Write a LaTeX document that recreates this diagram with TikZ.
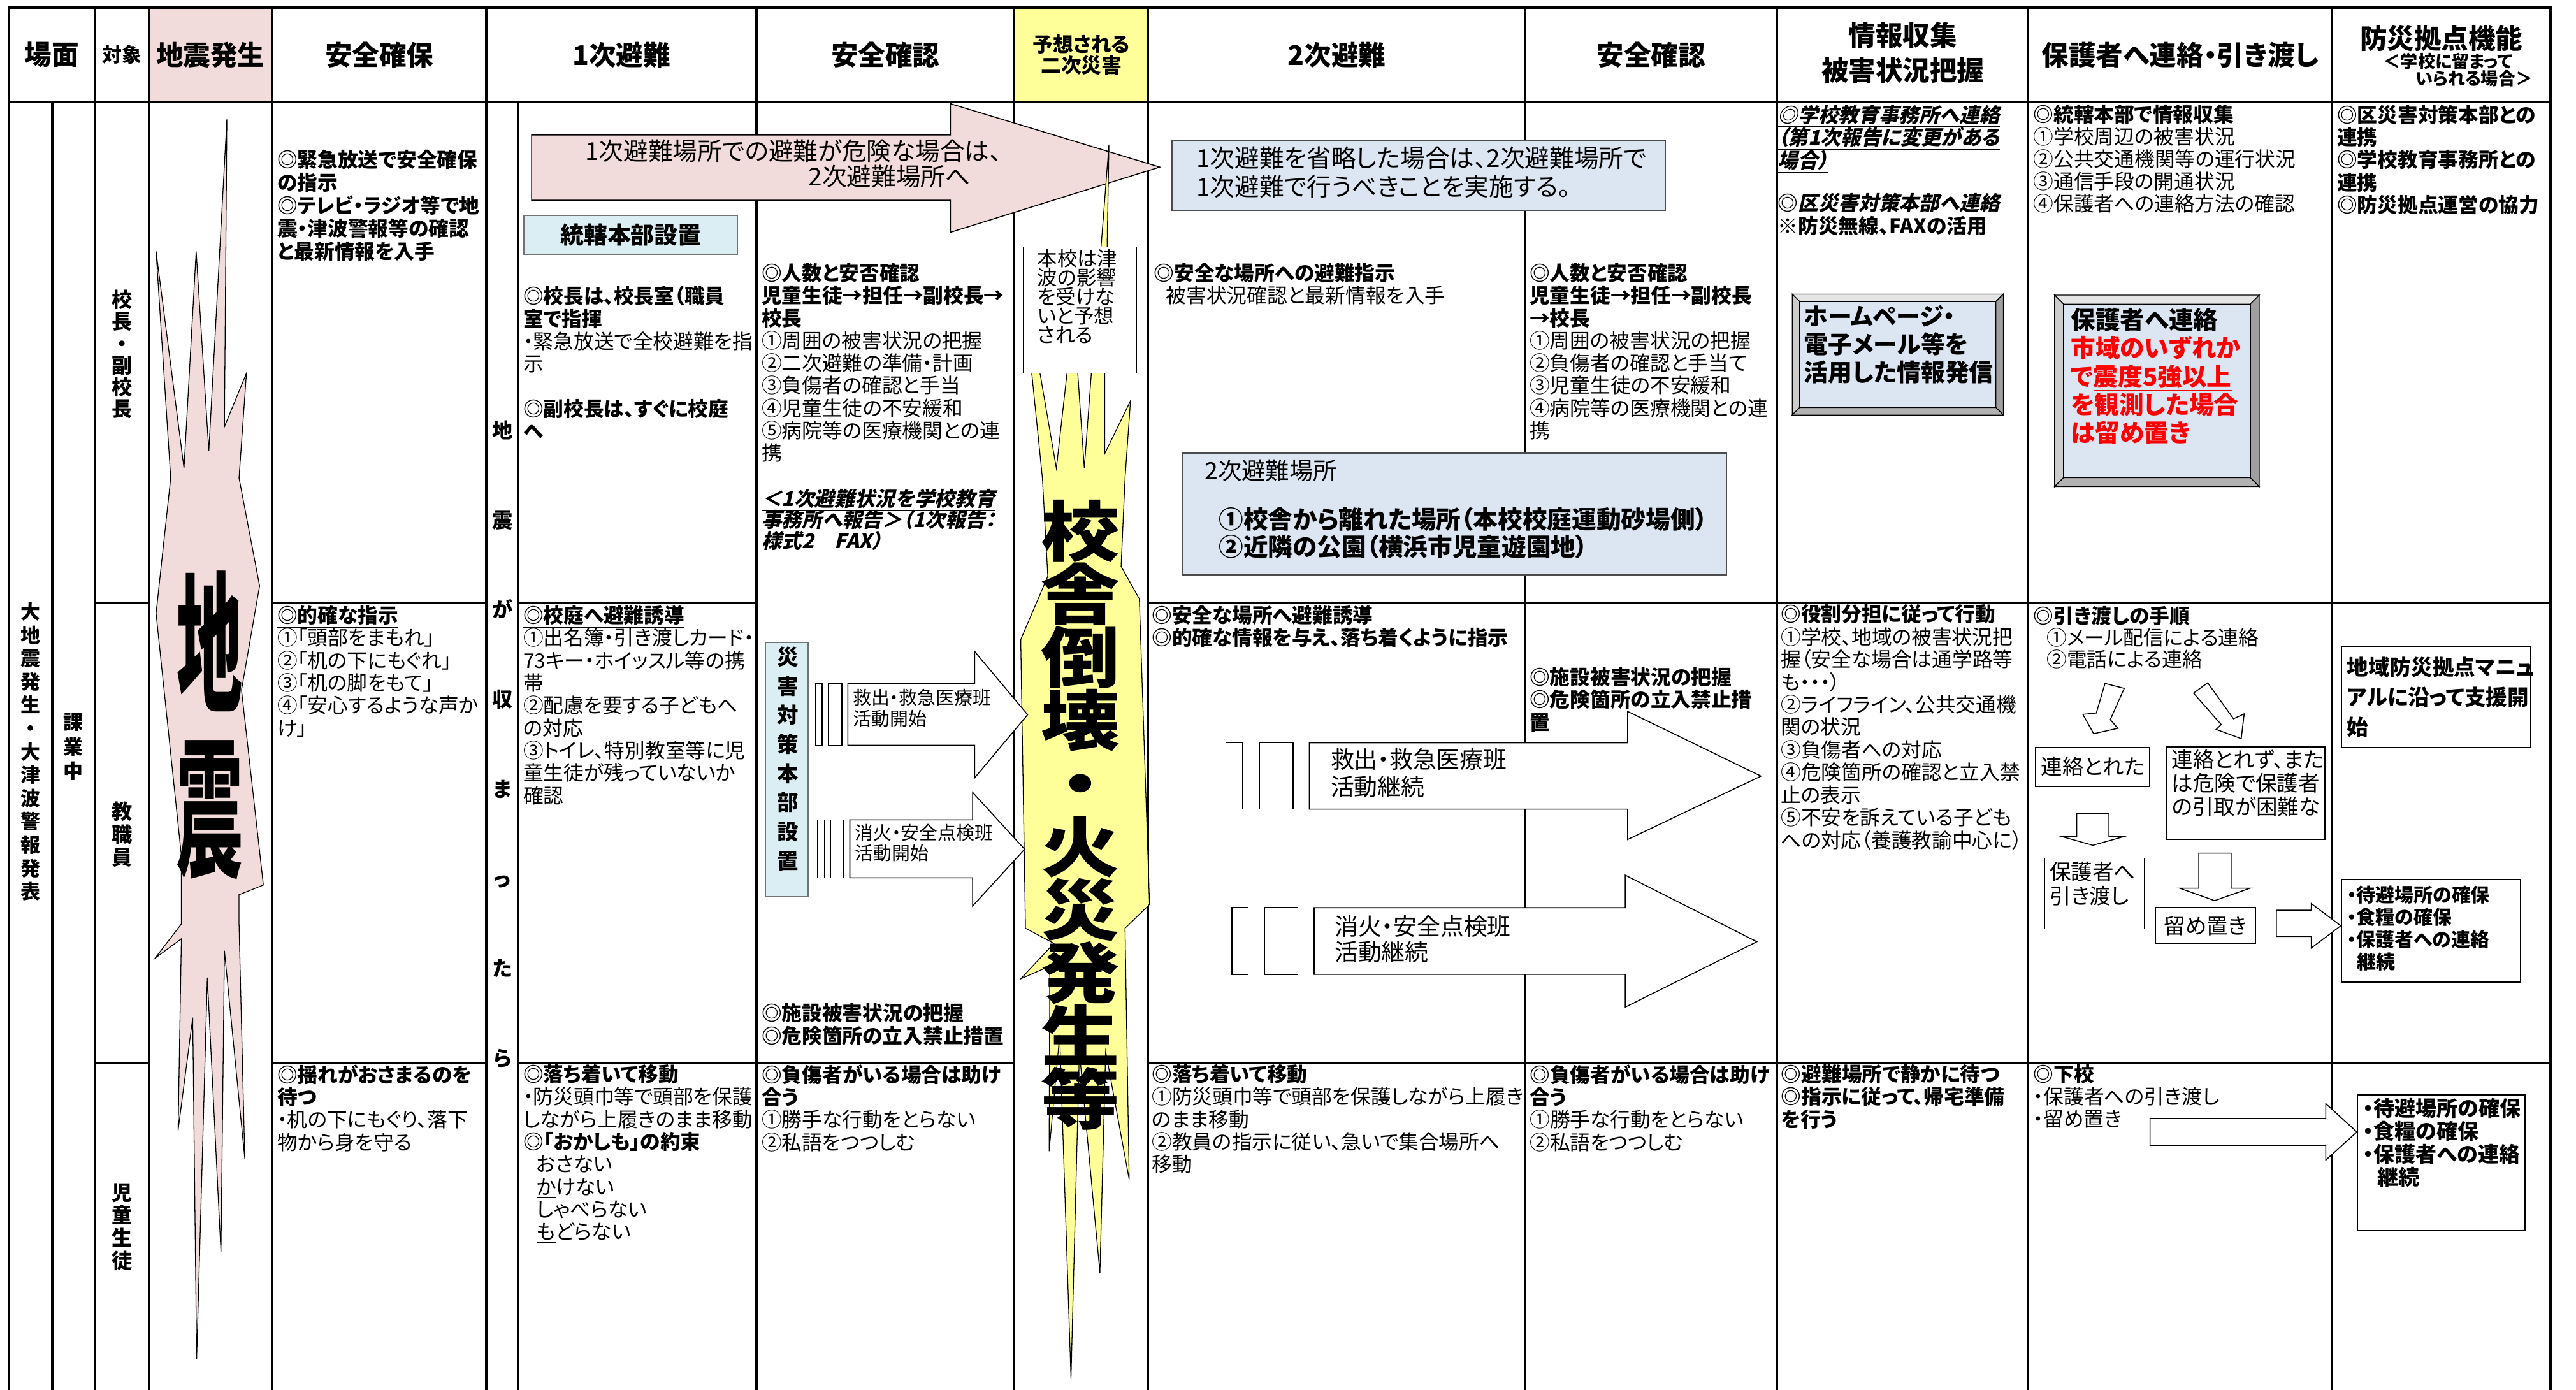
\documentclass[tikz,border=0pt]{standalone}
\usepackage{fontspec}
\usepackage{graphicx}
\setmainfont{Noto Sans CJK JP}[RawFeature=+palt]
\newfontfamily\slfont{Noto Sans CJK JP}[RawFeature=+palt, FakeSlant=0.22]
\definecolor{pinkf}{HTML}{F2DCDB}
\definecolor{yelf}{HTML}{FFFF99}
\definecolor{lbluef}{HTML}{DAEEF3}
\definecolor{bboxf}{HTML}{DCE6F2}
\newcommand\B[1]{\textbf{#1}}
\newcommand\UB[1]{\underline{\textbf{#1}}}
\newcommand\IU[1]{\underline{\slfont\bfseries #1}}
\newcommand\wc[1]{\scalebox{1.2}[1]{#1}}
\newcommand\fsz[2]{\fontsize{#1}{#2}\selectfont}
\newcommand\bevel[5]{%
 \filldraw[line width=0.5pt, fill=gray!20] (#1,#2) -- (#3,#2) -- ({#3-#5},{#2+#5}) -- ({#1+#5},{#2+#5}) -- cycle;
 \filldraw[line width=0.5pt, fill=gray!40] (#1,#2) -- ({#1+#5},{#2+#5}) -- ({#1+#5},{#4-#5}) -- (#1,#4) -- cycle;
 \filldraw[line width=0.5pt, fill=gray!75] (#3,#2) -- (#3,#4) -- ({#3-#5},{#4-#5}) -- ({#3-#5},{#2+#5}) -- cycle;
 \filldraw[line width=0.5pt, fill=gray!60] (#1,#4) -- (#3,#4) -- ({#3-#5},{#4-#5}) -- ({#1+#5},{#4-#5}) -- cycle;
 \filldraw[line width=0.5pt, fill=bboxf] ({#1+#5},{#2+#5}) rectangle ({#3-#5},{#4-#5});}
\AtBeginDocument{\lineskiplimit=-100pt\lineskip=0pt}
\begin{document}
\begin{tikzpicture}[x=1pt,y=-1pt,
 body/.style={anchor=north west,inner sep=0pt,align=left,font=\fsz{12.3}{13.7}},
 hd/.style={inner sep=0pt,align=center,font=\bfseries\fsz{16.5}{21.4}},
 vt/.style={inner sep=0pt,align=center},
 gridv/.style={line width=1.3pt},
 gridh/.style={line width=1pt},
 shp/.style={draw=black,line width=0.6pt,fill=white},
 lbl/.style={inner sep=0pt,align=left,anchor=north west}]
\useasboundingbox (0,0) rectangle (1568,846);
\fill[white] (0,0) rectangle (1568,846);
% header fills
\fill[pinkf] (90.5,4.5) rectangle (165.7,62.2);
\fill[yelf] (617.5,4.5) rectangle (698.9,62.2);
% grid
\foreach \xx in {57.9,90.5,165.7,296,460.4,617.5,698.9,928.4,1081.8,1234.6,1419.4}
  \draw[gridv] (\xx,4.5) -- (\xx,846);
\draw[gridv] (31.8,62.2) -- (31.8,846);
\draw[gridv] (315.6,62.2) -- (315.6,846);
\draw[gridh] (57.9,366.7) -- (90.5,366.7) (165.7,366.7) -- (296,366.7) (315.6,366.7) -- (460.4,366.7) (698.9,366.7) -- (1552.4,366.7);
\draw[gridh] (57.9,646.8) -- (90.5,646.8) (165.7,646.8) -- (296,646.8) (315.6,646.8) -- (617.5,646.8) (698.9,646.8) -- (1552.4,646.8);
\draw[line width=1.5pt] (5.3,846) -- (5.3,4.5) -- (1552.4,4.5) -- (1552.4,846);
\draw[line width=1.6pt] (5.3,62.2) -- (1552.4,62.2);

% headers
\node[hd] (h0) at (31.6,33.4) {場面};
\node[hd,font=\bfseries\fsz{12}{14}] (h1) at (74.2,33.4) {対象};
\node[hd] (h2) at (128.1,33.4) {地震発生};
\node[hd] (h3) at (230.9,33.4) {安全確保};
\node[hd] (h4) at (378.2,33.4) {1次避難};
\node[hd] (h5) at (539,33.4) {安全確認};
\node[hd,font=\bfseries\fsz{12.3}{13}] (h6) at (658.2,33.4) {予想される\\二次災害};
\node[hd] (h7) at (813.6,33.4) {2次避難};
\node[hd] (h8) at (1005.1,33.4) {安全確認};
\node[hd] (h9) at (1158.2,32) {情報収集\\被害状況把握};
\node[hd] (h10) at (1327,33.4) {保護者へ連絡・引き渡し};
\node[hd] (h11) at (1486,23.2) {防災拠点機能};
\node[lbl,font=\bfseries\fsz{10.5}{10.8}] (h11b) at (1450.6,31.9) {＜学校に留まって\\\hspace*{19.6pt}いられる場合＞};

% left vertical labels
\node[vt,font=\bfseries\fsz{12}{14.2}] (v1) at (18.6,457.5) {大\\地\\震\\発\\生\\・\\大\\津\\波\\警\\報\\発\\表};
\node[vt,font=\bfseries\fsz{12}{15}] (v2) at (44.5,454.6) {課\\業\\中};
\node[vt,font=\bfseries\fsz{12.5}{13.2}] (v3) at (74.2,215.6) {校\\長\\・\\副\\校\\長};
\node[vt,font=\bfseries\fsz{12.5}{13.9}] (v4) at (74.2,507.9) {教\\職\\員};
\node[vt,font=\bfseries\fsz{12.5}{13.9}] (v5) at (74.2,746.8) {児\\童\\生\\徒};
\node[vt,font=\bfseries\fsz{12.5}{54.6}] (v6) at (305.8,453) {地\\震\\が\\収\\ま\\っ\\た\\ら};

% pink arrow (1st evacuation dangerous)
\filldraw[fill=pinkf,draw=black,line width=0.6pt] (323.6,82.2) -- (578.5,82.2) -- (578.5,63.1) -- (705.9,101.7) -- (578.5,141.4) -- (578.5,121.9) -- (323.6,121.9) -- cycle;
\node[anchor=west,inner sep=0pt,font=\fsz{15}{17}] (pa1) at (356,91.8) {1次避難場所での避難が危険な場合は、};
\node[anchor=west,inner sep=0pt,font=\fsz{15}{17}] (pa2) at (492,107.6) {2次避難場所へ};

% yellow lightning
\filldraw[fill=yelf,draw=black,line width=0.5pt]
(634.5,291) -- (637.8,350.7) -- (621.3,389.3) -- (624.2,565) -- (641.5,574.2) -- (621.3,595.8) -- (639,588) -- (638.6,700.7) -- (645,630) -- (651.9,839) -- (657,640) -- (669.5,774.8) -- (673,640) -- (687.3,717.9) -- (684.8,565) -- (699.7,550.5) -- (693.5,364.5) -- (682.4,344.7) -- (684.8,291) -- (688.1,244) -- (672.5,276) -- (672.5,227) -- (675,88) -- (664.3,227) -- (660,285) -- (656,227) -- (652,160) -- (649.5,227) -- (643,285) -- (633,227) -- (628,170) -- (628,227) -- cycle;
% pink lightning
\filldraw[fill=pinkf,draw=black,line width=0.5pt]
(103.9,291) -- (95,153) -- (112,285) -- (119.4,153) -- (127.1,274.5) -- (138.1,72.7) -- (136.6,259.7) -- (150,227.2) -- (145.5,290.9) -- (158,356.6) -- (147,420) -- (160.3,538.7) -- (145.5,544.6) -- (145.5,562.4) -- (149,705.2) -- (136.6,578.7) -- (134.5,762.2) -- (126.2,595) -- (119.7,827.3) -- (117.3,619.4) -- (108.4,688) -- (110.4,571.4) -- (94.4,583.2) -- (110.4,562.4) -- (110.4,520.9) -- (95,373.4) -- cycle;
\node[inner sep=0pt] (jc1) at (127.7,390.2) {\scalebox{1}[2.3]{\bfseries\fsz{40}{40}地}};
\node[inner sep=0pt] (jc2) at (127.7,493.1) {\scalebox{1}[2.3]{\bfseries\fsz{40}{40}震}};

% tsunami note box
\filldraw[fill=white,draw=black,line width=0.6pt] (623,150.3) rectangle (691.8,227.2);
\node[lbl,font=\fsz{12.2}{11.6}] (tn) at (631.2,151.7) {本校は津\\波の影響\\を受けな\\いと予想\\される};
\node[vt,font=\bfseries\fsz{40}{38.4}] (big) at (657.6,496) {\wc{校}\\\wc{舎}\\\wc{倒}\\\wc{壊}\\\wc{・}\\\wc{火}\\\wc{災}\\\wc{発}\\\wc{生}\\\wc{等}};

% HQ boxes
\filldraw[fill=lbluef,draw=black!55,line width=0.7pt] (319,131.3) rectangle (449,154.9);
\node[inner sep=0pt,font=\bfseries\fsz{14.3}{16}] (hq) at (384,143.1) {統轄本部設置};
\filldraw[fill=lbluef,draw=black!55,line width=0.7pt] (465.9,391.2) rectangle (491.9,545.6);
\node[vt,font=\bfseries\fsz{13}{17.7}] (dq) at (479.5,461.9) {災\\害\\対\\策\\本\\部\\設\\置};

% small white arrows (start)
\draw[shp] (496.3,416) rectangle (500.5,453.6);
\draw[shp] (504.2,416) rectangle (512.4,453.6);
\draw[shp] (516.1,416) -- (593.3,416) -- (593.3,396.6) -- (625.5,435) -- (593.3,473.4) -- (593.3,453.6) -- (516.1,453.6) -- cycle;
\node[lbl,font=\fsz{11.2}{12.8}] (a1) at (519,419.3) {救出・救急医療班\\活動開始};
\draw[shp] (497.6,499) rectangle (501.8,534.3);
\draw[shp] (505.5,499) rectangle (513.6,534.3);
\draw[shp] (517.3,499) -- (592,499) -- (592,482.3) -- (623.7,516.9) -- (592,551.5) -- (592,534.3) -- (517.3,534.3) -- cycle;
\node[lbl,font=\fsz{11.2}{12.3}] (a2) at (520.3,501.4) {消火・安全点検班\\活動開始};

% big white arrows (continue)
\draw[shp] (746.2,452.2) rectangle (756.5,492.5);
\draw[shp] (766.5,452.2) rectangle (787,492.5);
\draw[shp] (796.9,452.2) -- (990.7,452.2) -- (990.7,433) -- (1071.9,472.4) -- (990.7,511) -- (990.7,492.5) -- (796.9,492.5) -- cycle;
\node[lbl,font=\fsz{14.3}{16.8}] (a3) at (809.8,455.3) {救出・救急医療班\\活動継続};
\draw[shp] (749.9,552.5) rectangle (759.8,593.1);
\draw[shp] (769.7,552.5) rectangle (790,593.1);
\draw[shp] (799.9,552.5) -- (989.3,552.5) -- (989.3,532.7) -- (1069.4,573.2) -- (989.3,613) -- (989.3,593.1) -- (799.9,593.1) -- cycle;
\node[lbl,font=\fsz{14.3}{15.2}] (a4) at (812.2,557.2) {消火・安全点検班\\活動継続};

% 2nd evacuation boxes
\filldraw[fill=bboxf,draw=black!70,line width=0.8pt] (713.3,85.9) rectangle (1013.8,128);
\node[lbl,font=\fsz{15}{17.5}] (b1) at (728.1,89) {1次避難を省略した場合は、2次避難場所で\\1次避難で行うべきことを実施する。};
\filldraw[fill=bboxf,draw=black!70,line width=0.8pt] (719.5,276) rectangle (1050.9,349.7);
\node[lbl,font=\fsz{14.5}{16}] (b2) at (733.1,279.7) {2次避難場所};
\node[lbl,font=\bfseries\fsz{15}{16.8}] (b3) at (741.7,308.5) {①校舎から離れた場所（本校校庭運動砂場側）\\②近隣の公園（横浜市児童遊園地）};

% bevel boxes
\bevel{1090.9}{179}{1219.4}{252.6}{4.5}
\node[lbl,font=\bfseries\fsz{14.7}{17.2}] (hp) at (1098,185.5) {ホームページ・\\電子メール等を\\活用した情報発信};
\bevel{1250.6}{179.6}{1375.2}{296.2}{5.5}
\node[lbl,font=\bfseries\fsz{15}{17.2}] (pr) at (1260.4,187.3) {保護者へ連絡\\\textcolor{red}{市域のいずれか}\\\textcolor{red}{で\underline{震度5強以上}}\\\textcolor{red}{を観測した場合}\\\textcolor{red}{は\underline{留め置き}}};

% handover flow
\draw[shp] (1281.3,416) -- (1276,434) -- (1267.8,434.8) -- (1274.4,446.6) -- (1289.1,443.3) -- (1284.5,438) -- (1293,419) -- cycle;
\draw[shp] (1343.8,415.6) -- (1335.2,421.9) -- (1352,441) -- (1349,444) -- (1364.2,449.6) -- (1366,434.5) -- (1359.5,437.5) -- cycle;
\draw[shp] (1239.1,455.1) rectangle (1308.3,478.9);
\node[inner sep=0pt,font=\fsz{13}{14}] (c1) at (1273.9,466.4) {連絡とれた};
\draw[shp] (1318.8,454.6) rectangle (1415.2,511);
\node[lbl,font=\fsz{13}{14.4}] (c2) at (1321.8,456) {連絡とれず、また\\は危険で保護者\\の引取が困難な};
\draw[shp] (1264.1,495.1) -- (1283.7,495.1) -- (1283.7,509) -- (1293.5,509) -- (1273.9,514.5) -- (1254.3,509) -- (1264.1,509) -- cycle;
\draw[shp] (1338.4,519.3) -- (1358.1,519.3) -- (1358.1,540.6) -- (1369.6,540.6) -- (1348,548.2) -- (1326.7,540.6) -- (1338.4,540.6) -- cycle;
\draw[shp] (1244.5,522.4) rectangle (1305.1,565.4);
\node[lbl,font=\fsz{13}{14.9}] (c3) at (1247.4,524.2) {保護者へ\\引き渡し};
\draw[shp] (1312.2,552.5) rectangle (1372.8,574.3);
\node[inner sep=0pt,font=\fsz{13}{14}] (c4) at (1342.5,563.4) {留め置き};
\draw[shp] (1385.6,554) -- (1406.9,554) -- (1406.9,550) -- (1424.8,563.5) -- (1406.9,577) -- (1406.9,570) -- (1385.6,570) -- cycle;
\draw[shp] (1308.7,680.8) -- (1415.7,680.8) -- (1415.7,671.8) -- (1434.6,689) -- (1415.7,706.1) -- (1415.7,697.1) -- (1308.7,697.1) -- cycle;

% disaster base boxes
\draw[shp] (1425.3,393.6) rectangle (1540.2,455);
\node[lbl,font=\bfseries\fsz{13}{18.3}] (d1) at (1428.5,399.6) {地域防災拠点マニュ\\アルに沿って支援開\\始};
\draw[shp] (1425.3,535.1) rectangle (1534,597.7);
\node[lbl,font=\bfseries\fsz{11.6}{13.6}] (d2) at (1428.5,538.8) {・待避場所の確保\\・食糧の確保\\・保護者への連絡\\\hspace*{6pt}継続};
\draw[shp] (1435.1,666.4) rectangle (1537,749);
\node[lbl,font=\bfseries\fsz{12.8}{14}] (d3) at (1438.3,668.1) {・待避場所の確保\\・食糧の確保\\・保護者への連絡\\\hspace*{8.6pt}継続};

% ===== cell texts =====
% 安全確保
\node[body,font=\bfseries\fsz{12.3}{14}] (s1) at (168.6,91) {◎緊急放送で安全確保\\の指示\\◎テレビ・ラジオ等で地\\震・津波警報等の確認\\と最新情報を入手};
\node[body] (s2) at (168.6,368.5) {\UB{◎的確な指示}\\①「頭部をまもれ」\\②「机の下にもぐれ」\\③「机の脚をもて」\\④「安心するような声か\\け」};
\node[body] (s3) at (168.6,647.8) {\B{◎揺れがおさまるのを}\\\B{待つ}\\・机の下にもぐり、落下\\物から身を守る};
% 1次避難
\node[body] (p1) at (318.3,174.1) {\B{◎校長は、校長室（職員}\\\B{室で指揮}\\・緊急放送で全校避難を指\\示\\[13.7pt]\B{◎副校長は、すぐに校庭}\\\B{へ}};
\node[body] (p2) at (318.3,368.5) {\UB{◎校庭へ避難誘導}\\①出名簿・引き渡しカード・\\73キー・ホイッスル等の携\\帯\\②配慮を要する子どもへ\\の対応\\③トイレ、特別教室等に児\\童生徒が残っていないか\\確認};
\node[body] (p3) at (318.3,647.8) {\B{◎落ち着いて移動}\\・防災頭巾等で頭部を保護\\しながら上履きのまま移動\\\B{◎「おかしも」の約束}\\\hspace*{8pt}\underline{お}さない\\\hspace*{8pt}\underline{か}けない\\\hspace*{8pt}\underline{し}ゃべらない\\\hspace*{8pt}\underline{も}どらない};
% 安全確認 1
\node[body] (k1) at (463.4,160.1) {\B{◎人数と安否確認}\\\B{児童生徒→担任→副校長→}\\\B{校長}\\①周囲の被害状況の把握\\②二次避難の準備・計画\\③負傷者の確認と手当\\④児童生徒の不安緩和\\⑤病院等の医療機関との連\\携};
\node[body,font=\fsz{12.3}{12.9}] (k2) at (463.4,297.3) {\IU{＜1次避難状況を学校教育}\\\IU{事務所へ報告＞（1次報告：}\\\IU{様式2　FAX）}};
\node[body] (k3) at (463.4,610.7) {\B{◎施設被害状況の把握}\\\B{◎危険箇所の立入禁止措置}};
\node[body] (k4) at (463.4,647.8) {\B{◎負傷者がいる場合は助け}\\\B{合う}\\①勝手な行動をとらない\\②私語をつつしむ};
% 2次避難
\node[body] (n1) at (702.2,160.1) {\B{◎安全な場所への避難指示}\\\hspace*{7.4pt}被害状況確認と最新情報を入手};
\node[body,font=\fsz{12.3}{13.2}] (n2) at (700.9,368.6) {\B{◎安全な場所へ避難誘導}\\\B{◎的確な情報を与え、落ち着くように指示}};
\node[body] (n3) at (700.9,647.8) {\B{◎落ち着いて移動}\\①防災頭巾等で頭部を保護しながら上履き\\のまま移動\\②教員の指示に従い、急いで集合場所へ\\移動};
% 安全確認 2
\node[body] (m1) at (930.9,160.1) {\B{◎人数と安否確認}\\\B{児童生徒→担任→副校長}\\\B{→校長}\\①周囲の被害状況の把握\\②負傷者の確認と手当て\\③児童生徒の不安緩和\\④病院等の医療機関との連\\携};
\node[body] (m2) at (930.9,406.1) {\B{◎施設被害状況の把握}\\\B{◎危険箇所の立入禁止措}\\\B{置}};
\node[body] (m3) at (931,647.8) {\B{◎負傷者がいる場合は助け}\\\B{合う}\\①勝手な行動をとらない\\②私語をつつしむ};
% 情報収集
\node[body,font=\fsz{12.3}{13.9}] (i1) at (1082,63.7) {\IU{◎学校教育事務所へ連絡}\\\IU{（第1次報告に変更がある}\\\IU{場合）}\\[12pt]\B{◎}\IU{区災害対策本部へ連絡}\\\B{※防災無線、FAXの活用}};
\node[body,font=\fsz{12.3}{13.75}] (i2) at (1083.8,367.8) {\B{◎役割分担に従って行動}\\①学校、地域の被害状況把\\握（安全な場合は通学路等\\も・・・）\\②ライフライン、公共交通機\\関の状況\\③負傷者への対応\\④危険箇所の確認と立入禁\\止の表示\\⑤不安を訴えている子ども\\への対応（養護教諭中心に）};
\node[body] (i3) at (1084,647.8) {\B{◎避難場所で静かに待つ}\\\B{◎指示に従って、帰宅準備}\\\B{を行う}};
% 保護者
\node[body,font=\fsz{12.3}{13.5}] (g1) at (1237.6,63.7) {\B{◎統轄本部で情報収集}\\①学校周辺の被害状況\\②公共交通機関等の運行状況\\③通信手段の開通状況\\④保護者への連絡方法の確認};
\node[body,font=\fsz{12.3}{13.2}] (g2) at (1237.6,368.9) {\B{◎引き渡しの手順}\\\hspace*{8pt}①メール配信による連絡\\\hspace*{8pt}②電話による連絡};
\node[body,font=\fsz{12.3}{13.5}] (g3) at (1237.6,647.8) {\B{◎下校}\\・保護者への引き渡し\\・留め置き};
% 防災拠点
\node[body,font=\bfseries\fsz{12.3}{13.7}] (f1) at (1422.4,63.7) {◎区災害対策本部との\\連携\\◎学校教育事務所との\\連携\\◎防災拠点運営の協力};
\end{tikzpicture}
\end{document}
